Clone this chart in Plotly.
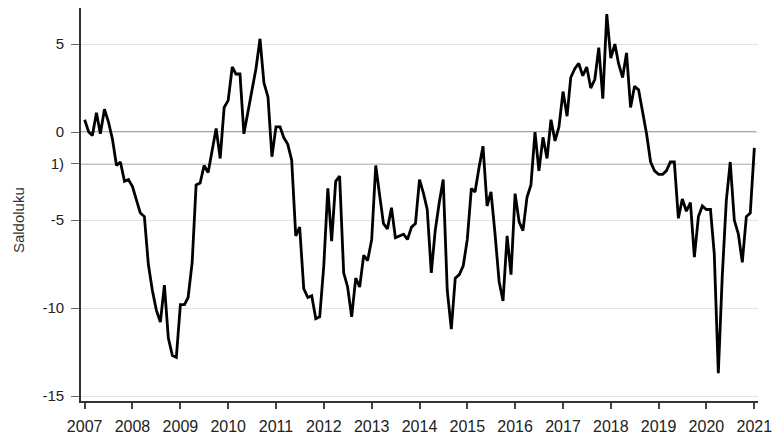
import plotly.graph_objects as go
import pandas as pd

# Monthly balance figures, Jan 2007 .. Jan 2021
start_month = "2007-01-01"
values = [
    0.7, 0.0, -0.2, 1.1, -0.1, 1.3, 0.6, -0.4, -1.9, -1.7, -2.8, -2.7,          # 2007
    -3.1, -3.9, -4.6, -4.8, -7.5, -9.0, -10.1, -10.8, -8.7, -11.7, -12.7, -12.8, # 2008
    -9.8, -9.8, -9.4, -7.4, -3.0, -2.9, -1.9, -2.3, -1.0, 0.2, -1.5, 1.4,       # 2009
    1.8, 3.7, 3.3, 3.3, -0.1, 1.2, 2.4, 3.6, 5.3, 2.8, 2.0, -1.4,               # 2010
    0.3, 0.3, -0.3, -0.7, -1.6, -5.9, -5.4, -8.9, -9.4, -9.3, -10.6, -10.5,     # 2011
    -7.6, -3.2, -6.2, -2.8, -2.5, -8.0, -8.8, -10.5, -8.3, -8.8, -7.0, -7.3,    # 2012
    -6.1, -1.9, -3.5, -5.2, -5.5, -4.3, -6.0, -5.9, -5.8, -6.1, -5.4, -5.2,     # 2013
    -2.7, -3.5, -4.4, -8.0, -5.6, -4.0, -2.7, -9.0, -11.2, -8.3, -8.1, -7.6,    # 2014
    -6.1, -3.2, -3.4, -2.0, -0.8, -4.2, -3.4, -5.8, -8.5, -9.6, -5.9, -8.1,     # 2015
    -3.5, -5.1, -5.6, -3.7, -3.0, 0.0, -2.2, -0.3, -1.5, 0.7, -0.5, 0.3,        # 2016
    2.3, 0.9, 3.1, 3.6, 3.9, 3.2, 3.7, 2.5, 3.0, 4.8, 1.9, 6.7,                 # 2017
    4.2, 5.0, 3.9, 3.1, 4.5, 1.4, 2.6, 2.4, 1.2, -0.1, -1.7, -2.2,              # 2018
    -2.4, -2.4, -2.2, -1.7, -1.7, -4.9, -3.8, -4.5, -4.0, -7.1, -4.8, -4.2,     # 2019
    -4.4, -4.4, -6.9, -13.7, -8.2, -3.9, -1.7, -5.0, -5.8, -7.4, -4.8, -4.6,    # 2020
    -0.9,                                                                        # 2021
]
dates = pd.date_range(start_month, periods=len(values), freq="MS")

tick_vals = [5, 0, -1.8, -5, -10, -15]
tick_text = ["5", "0", "1)", "-5", "-10", "-15"]
ref_lines = [0, -1.8]
y_title = "Saldoluku"

fig = go.Figure()
fig.add_trace(go.Scatter(x=dates, y=values, mode="lines",
                         line=dict(color="black", width=2.8), showlegend=False,
                         hoverinfo="skip"))

for v in ref_lines:
    fig.add_shape(type="line", xref="paper", x0=0, x1=0.997, yref="y", y0=v, y1=v,
                  line=dict(color="#8a8a8a", width=1.6), layer="below")

fig.add_annotation(text=y_title, xref="paper", x=0, xanchor="center", xshift=-63,
                   yref="y", y=-5, textangle=-90, showarrow=False,
                   font=dict(family="Liberation Sans, Arial", size=15, color="#333333"))

fig.update_layout(
    width=772, height=440,
    margin=dict(l=81, r=14, t=8, b=39, autoexpand=False),
    paper_bgcolor="white", plot_bgcolor="white",
    font=dict(family="Liberation Sans, Arial", size=15, color="#222222"),
    xaxis=dict(
        type="date",
        range=["2006-12-04", "2021-01-29"],
        tick0="2007-01-01", dtick="M12", tickformat="%Y",
        ticks="outside", ticklen=6, tickwidth=1.5, tickcolor="#444444",
        showline=True, linecolor="#333333", linewidth=1.8,
        showgrid=False, zeroline=False, ticklabelstandoff=4,
        ticklabeloverflow="allow", automargin=False,
        tickfont=dict(size=16),
    ),
    yaxis=dict(
        range=[-15.28, 7.05],
        tickmode="array", tickvals=tick_vals, ticktext=tick_text,
        ticks="outside", ticklen=8, tickwidth=1.2, tickcolor="#666666",
        showline=True, linecolor="#333333", linewidth=1.8,
        showgrid=True, gridcolor="#e2e2e2", gridwidth=1.3,
        zeroline=False, ticklabelstandoff=4, automargin=False,
        tickfont=dict(size=15),
    ),
)

fig.write_html("out.html", config={"displayModeBar": False},
               post_script="document.body.style.margin='0';")
